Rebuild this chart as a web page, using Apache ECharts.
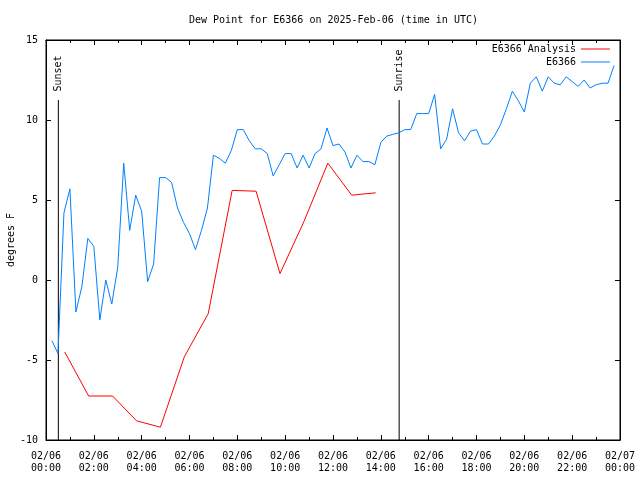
<!DOCTYPE html>
<html>
<head>
<meta charset="utf-8">
<script src="https://cdn.jsdelivr.net/npm/echarts@6/dist/echarts.min.js"></script>
<style>html,body{margin:0;padding:0;background:#fff}#c{width:640px;height:480px}</style>
</head>
<body>
<div id="c"></div>
<script>
// ---- data ----
const titleText = 'Dew Point for E6366 on 2025-Feb-06 (time in UTC)';
const yAxisName = 'degrees F';
const xTickLabels = ['02/06\n00:00','02/06\n02:00','02/06\n04:00','02/06\n06:00','02/06\n08:00','02/06\n10:00','02/06\n12:00','02/06\n14:00','02/06\n16:00','02/06\n18:00','02/06\n20:00','02/06\n22:00','02/07\n00:00'];

const obsName = 'E6366';
const obsTimes = ['00:15','00:30','00:45','01:00','01:15','01:30','01:45','02:00','02:15','02:30','02:45','03:00','03:15','03:30','03:45','04:00','04:15','04:30','04:45','05:00','05:15','05:30','05:45','06:00','06:15','06:30','06:45','07:00','07:15','07:30','07:45','08:00','08:15','08:30','08:45','09:00','09:15','09:30','09:45','10:00','10:15','10:30','10:45','11:00','11:15','11:30','11:45','12:00','12:15','12:30','12:45','13:00','13:15','13:30','13:45','14:00','14:15','14:30','14:45','15:00','15:15','15:30','15:45','16:00','16:15','16:30','16:45','17:00','17:15','17:30','17:45','18:00','18:15','18:30','18:45','19:00','19:15','19:30','19:45','20:00','20:15','20:30','20:45','21:00','21:15','21:30','21:45','22:00','22:15','22:30','22:45','23:00','23:15','23:30','23:45'];
const obsValues = [-3.8,-4.6,4.2,5.7,-2.0,-0.4,2.6,2.1,-2.5,0.0,-1.5,0.8,7.3,3.1,5.3,4.3,-0.1,1.0,6.4,6.4,6.1,4.5,3.6,2.9,1.9,3.1,4.5,7.8,7.6,7.3,8.1,9.4,9.4,8.7,8.2,8.2,7.9,6.5,7.2,7.9,7.9,7.0,7.8,7.0,7.9,8.2,9.5,8.4,8.5,8.0,7.0,7.8,7.4,7.4,7.2,8.6,9.0,9.1,9.2,9.4,9.4,10.4,10.4,10.4,11.6,8.2,8.8,10.7,9.2,8.7,9.3,9.4,8.5,8.5,9.0,9.7,10.7,11.8,11.2,10.5,12.3,12.7,11.8,12.7,12.3,12.2,12.7,12.4,12.1,12.5,12.0,12.2,12.3,12.3,13.4];

const anaName = 'E6366 Analysis';
const anaTimes = ['00:47','01:47','02:47','03:47','04:47','05:47','06:47','07:47','08:47','09:47','10:47','11:47','12:47','13:47'];
const anaValues = [-4.5,-7.25,-7.25,-8.8,-9.2,-4.8,-2.1,5.6,5.55,0.4,3.65,7.3,5.3,5.45];

const sunNames = ['Sunset','Sunrise'];
const sunTimes = ['00:31','14:46'];
const sunLineBottom = -10;
const sunLineTop = 11.25;

// ---- helpers ----
function toHours(s){ const p = s.split(':').map(Number); return p[0] + p[1]/60; }
function pairs(times, vals){ return times.map((t,i)=>[toHours(t), vals[i]]); }

const FONT = 'DejaVu Sans Mono';
const txt = {fontFamily: FONT, fontSize: 10, color: '#000'};
const RED = '#ff0000', BLUE = '#0080ff';

const sunSeries = [];
sunNames.forEach((n,i)=>{
  const h = toHours(sunTimes[i]);
  sunSeries.push({
    type:'line', silent:true, symbol:'none', animation:false,
    lineStyle:{color:'#000', width:1},
    data:[[h, sunLineBottom],[h, sunLineTop]], z:1
  });
  sunSeries.push({
    type:'scatter', silent:true, symbolSize:1, animation:false,
    itemStyle:{color:'transparent'},
    data:[{name:n, value:[h, sunLineTop]}],
    label:{show:true, formatter:'{b}', rotate:90, position:'top', distance:8, opacity:1,
           align:'left', verticalAlign:'middle', fontFamily:FONT, fontSize:10, color:'#000'}
  });
});

const chart = echarts.init(document.getElementById('c'), null, {renderer:'canvas'});
const legendCommon = {orient:'vertical', right:30, itemWidth:29, itemHeight:1, align:'right', padding:0,
  icon:'rect', textStyle:{fontFamily:FONT, fontSize:10, color:'#000'}, selectedMode:false};
chart.setOption({
  animation:false,
  backgroundColor:'#fff',
  title:{text:titleText, left:189, top:15, padding:0,
    textStyle:{fontFamily:FONT, fontSize:10, fontWeight:'normal', color:'#000'}},
  legend:[
    Object.assign({}, legendCommon, {top:44, data:[{name:anaName, itemStyle:{color:RED}}]}),
    Object.assign({}, legendCommon, {top:57, data:[{name:obsName, itemStyle:{color:BLUE}}]})
  ],
  grid:{left:46, right:20, top:40, bottom:40, show:true, borderColor:'#000', borderWidth:1, containLabel:false, outerBoundsMode:'none'},
  xAxis:[{
    type:'value', min:0, max:24, interval:2, position:'bottom',
    axisLine:{show:true, onZero:false, lineStyle:{color:'#000', width:1}},
    axisTick:{show:true, inside:true, length:5, lineStyle:{color:'#000'}},
    minorTick:{show:true, splitNumber:2, length:3, lineStyle:{color:'#000'}},
    splitLine:{show:false},
    axisLabel:Object.assign({margin:10, lineHeight:12, formatter:(v)=>xTickLabels[Math.round(v/2)]}, txt)
  },{
    type:'value', min:0, max:24, interval:2, position:'top',
    axisLine:{show:true, onZero:false, lineStyle:{color:'#000', width:1}},
    axisTick:{show:true, inside:true, length:5, lineStyle:{color:'#000'}},
    minorTick:{show:true, splitNumber:2, length:3, lineStyle:{color:'#000'}},
    splitLine:{show:false}, axisLabel:{show:false}
  }],
  yAxis:[{
    type:'value', min:-10, max:15, interval:5, position:'left',
    name:yAxisName, nameLocation:'middle', nameGap:30, nameMoveOverlap:false, nameTextStyle:txt,
    axisLine:{show:true, onZero:false, lineStyle:{color:'#000', width:1}},
    axisTick:{show:true, inside:true, length:5, lineStyle:{color:'#000'}},
    splitLine:{show:false},
    axisLabel:Object.assign({margin:8}, txt)
  },{
    type:'value', min:-10, max:15, interval:5, position:'right',
    axisLine:{show:true, onZero:false, lineStyle:{color:'#000', width:1}},
    axisTick:{show:true, inside:true, length:5, lineStyle:{color:'#000'}},
    splitLine:{show:false}, axisLabel:{show:false}
  }],
  series:[
    {name:anaName, type:'line', symbol:'none', color:RED, lineStyle:{color:RED, width:1}, data:pairs(anaTimes, anaValues), z:3},
    {name:obsName, type:'line', symbol:'none', color:BLUE, lineStyle:{color:BLUE, width:1}, data:pairs(obsTimes, obsValues), z:3}
  ].concat(sunSeries)
});
</script>
</body>
</html>
